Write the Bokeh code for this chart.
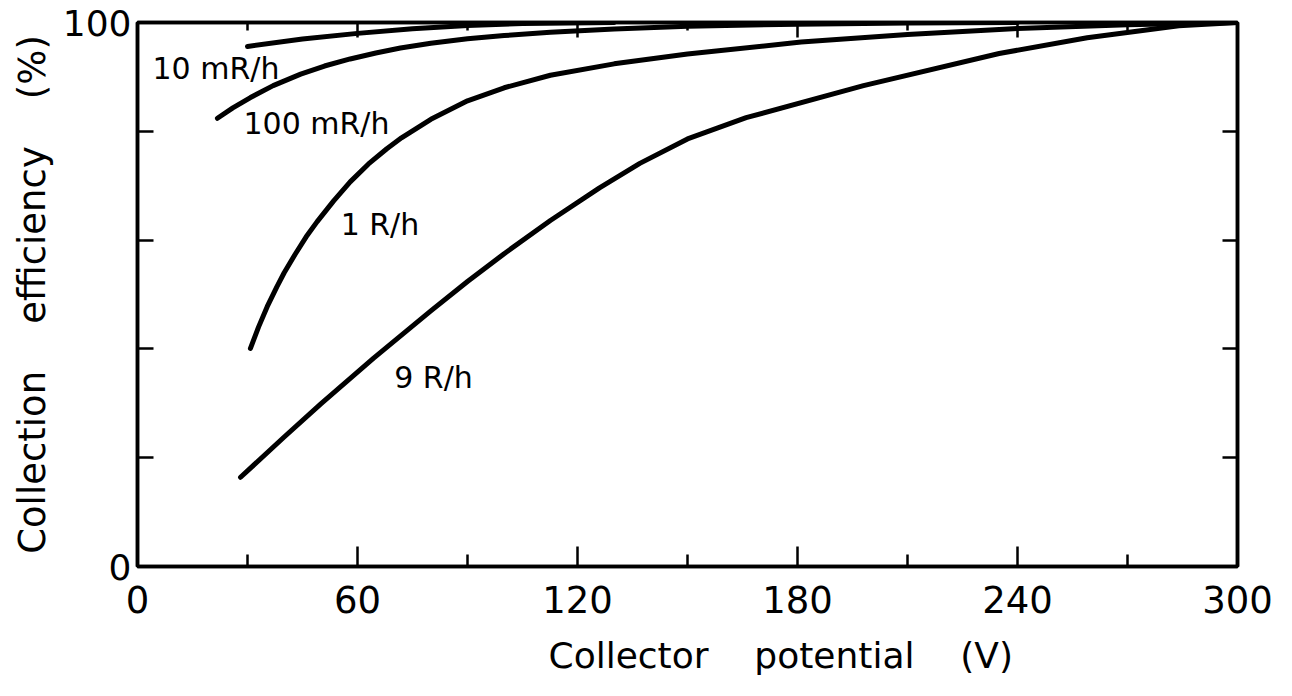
from bokeh.plotting import figure
from bokeh.models import Range1d, LinearAxis, FixedTicker, ColumnDataSource, Title
from bokeh.embed import file_html
from bokeh.resources import INLINE
from bokeh.core.properties import value

FONT = "DejaVu Sans"

# ---- data ----
x_10mR = [30, 45, 60, 75, 90, 105, 130]
y_10mR = [95.6, 96.95, 98.0, 98.85, 99.45, 99.8, 100]

x_100mR = [21.8, 26, 30.8, 37, 44.5, 51, 58, 65, 71.7, 80, 90, 100, 112.6, 130, 150, 180, 210, 240]
y_100mR = [82.4, 84.3, 86.2, 88.4, 90.5, 92.0, 93.3, 94.4, 95.3, 96.2, 97.0, 97.6, 98.2, 98.8,
           99.3, 99.7, 99.9, 100]

x_1R = [30.8, 33, 35.4, 38, 40, 43, 46, 49, 53.5, 58, 63, 68, 72, 80, 90, 100, 112.6,
        130, 150, 181, 210, 240, 270, 300]
y_1R = [40.1, 44.0, 47.8, 51.4, 54.0, 57.4, 60.6, 63.4, 67.2, 70.7, 74.0, 76.8, 78.8, 82.2,
        85.6, 88.0, 90.3, 92.4, 94.2, 96.4, 97.8, 98.9, 99.6, 100]

x_9R = [28.1, 40, 50, 64.4, 80, 90, 100, 112.6, 126, 137, 150, 166, 198, 235, 259, 284, 300]
y_9R = [16.4, 23.8, 29.9, 38.3, 47.0, 52.4, 57.5, 63.6, 69.6, 74.1, 78.6, 82.5, 88.4, 94.3,
        97.2, 99.4, 100]

curve_labels = ["10 mR/h", "100 mR/h", "1 R/h", "9 R/h"]
label_x = [4.1, 28.9, 55.4, 70.0]
label_y = [91.5, 81.4, 62.8, 34.8]

x_ticks = [0, 60, 120, 180, 240, 300]
x_minor = [30, 90, 150, 210, 270]
y_ticks = [0, 20, 40, 60, 80, 100]
y_labels = {0: "0", 20: "", 40: "", 60: "", 80: "", 100: "100"}

NB = "\u00a0"
x_title = "Collector " + NB * 3 + "potential " + NB * 3 + "(V)"
y_title = "Collection " + NB * 3 + "efficiency " + NB * 3 + "(%)"

p = figure(width=1292, height=696, output_backend="svg", toolbar_location=None,
           x_range=Range1d(0, 300), y_range=Range1d(0, 100),
           x_axis_location=None, y_axis_location=None,
           min_border_left=137, min_border_right=55, min_border_top=22, min_border_bottom=130)
p.xgrid.visible = False
p.ygrid.visible = False
p.background_fill_color = "white"
p.border_fill_color = "white"
p.outline_line_color = "black"
p.outline_line_width = 3.5

LW = 3.5


def style_axis(ax, major_in, minor_in, labels):
    ax.axis_line_color = "black"
    ax.axis_line_width = LW
    ax.major_tick_in = major_in
    ax.major_tick_out = 0
    ax.minor_tick_in = minor_in
    ax.minor_tick_out = 0
    ax.major_tick_line_width = 2.5
    ax.minor_tick_line_width = 2.5
    ax.major_tick_line_color = "black"
    ax.minor_tick_line_color = "black"
    ax.major_label_text_font = FONT
    ax.major_label_text_color = "black"
    if not labels:
        ax.major_label_text_font_size = "0px"
        ax.major_label_standoff = 0


# bottom axis
xb = LinearAxis(ticker=FixedTicker(ticks=x_ticks, minor_ticks=x_minor))
style_axis(xb, 20, 12, True)
xb.major_label_text_font_size = "37px"
xb.major_label_standoff = 19
p.add_layout(xb, "below")

# x-axis title (placed as a below-panel title so it can sit right of centre, as in the reference)
p.add_layout(Title(text=x_title, align="left", offset=411, standoff=36, vertical_align="middle",
                   text_font=FONT, text_font_size="36px", text_font_style="normal",
                   text_color="black"), "below")

# top axis (ticks only)
xt = LinearAxis(ticker=FixedTicker(ticks=x_ticks, minor_ticks=x_minor),
                major_label_overrides={t: "" for t in x_ticks})
style_axis(xt, 15, 8, False)
p.add_layout(xt, "above")

# left axis
yl = LinearAxis(ticker=FixedTicker(ticks=y_ticks), major_label_overrides=y_labels)
style_axis(yl, 16, 0, True)
yl.major_label_text_font_size = "36px"
yl.major_label_standoff = 6
yl.axis_label = y_title
yl.axis_label_text_font = FONT
yl.axis_label_text_font_style = "normal"
yl.axis_label_text_font_size = "37px"
yl.axis_label_text_color = "black"
yl.axis_label_standoff = 6
p.add_layout(yl, "left")

# right axis (ticks only)
yr = LinearAxis(ticker=FixedTicker(ticks=y_ticks), major_label_overrides={t: "" for t in y_ticks})
style_axis(yr, 15, 0, False)
p.add_layout(yr, "right")

# curves
for xs, ys in [(x_10mR, y_10mR), (x_100mR, y_100mR), (x_1R, y_1R), (x_9R, y_9R)]:
    p.line(xs, ys, line_color="black", line_width=5, line_cap="round", line_join="round")

src = ColumnDataSource(dict(x=label_x, y=label_y, t=curve_labels))
p.text(x="x", y="y", text="t", source=src, text_font=value(FONT), text_font_size="30px",
       text_color="black", text_align="left", text_baseline="alphabetic")

open("out.html", "w").write(file_html(p, INLINE))
